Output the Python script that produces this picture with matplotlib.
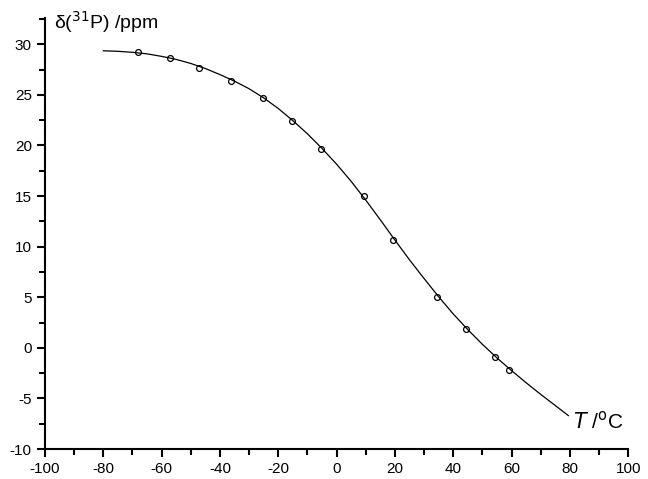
import matplotlib
matplotlib.use("Agg")
import matplotlib.pyplot as plt
from matplotlib.ticker import MultipleLocator

# measured data points
temp_pts = [-68, -57, -47.3, -36.3, -25.3, -15.4, -5.3, 9.3, 19.5, 34.6, 44.4, 54.3, 59.3]
shift_pts = [29.2, 28.6, 27.7, 26.4, 24.7, 22.4, 19.6, 15.05, 10.7, 5.03, 1.87, -0.93, -2.15]

# fitted curve
temp_fit = [-80, -75, -70, -65, -60, -55, -50, -45, -40, -35, -30, -25, -20, -15, -10, -5,
            0, 5, 10, 15, 20, 25, 30, 35, 40, 45, 50, 55, 60, 65, 70, 75, 79.5]
shift_fit = [29.35, 29.3, 29.2, 29.05, 28.8, 28.5, 28.1, 27.6, 27.0, 26.35, 25.6, 24.7, 23.65,
             22.45, 21.15, 19.7, 18.15, 16.45, 14.6, 12.65, 10.65, 8.7, 6.85, 5.05, 3.35, 1.8,
             0.35, -1.0, -2.25, -3.45, -4.6, -5.7, -6.7]

xticks = [-100, -80, -60, -40, -20, 0, 20, 40, 60, 80, 100]
yticks = [-10, -5, 0, 5, 10, 15, 20, 25, 30]

plt.rcParams['font.family'] = ['Liberation Sans', 'DejaVu Sans']
plt.rcParams['axes.unicode_minus'] = False

fig = plt.figure(figsize=(6.48, 4.79), dpi=100)
ax = fig.add_axes([0.0694, 0.0626, 0.9, 0.9])
ax.plot(temp_fit, shift_fit, color='black', lw=0.9)
ax.plot(temp_pts, shift_pts, 'o', ms=4.2, mfc='none', mec='black', mew=0.9)

ax.set_xlim(-100, 100)
ax.set_ylim(-10, 32.6)
ax.set_xticks(xticks)
ax.set_yticks(yticks)
ax.xaxis.set_minor_locator(MultipleLocator(10))
ax.yaxis.set_minor_locator(MultipleLocator(2.5))
ax.spines['top'].set_visible(False)
ax.spines['right'].set_visible(False)
for s in ('left', 'bottom'):
    ax.spines[s].set_linewidth(1.5)
ax.tick_params(which='major', direction='out', length=6, width=1.5, labelsize=11)
ax.tick_params(which='minor', direction='out', length=4, width=1.5)

ax.text(0.015, 1.02, r'δ($^{31}$P) /ppm', transform=ax.transAxes, fontsize=14,
        ha='left', va='top')
ax.text(0.905, 0.065, r'$\it{T}$ /$^{\rm o}$C', transform=ax.transAxes, fontsize=15,
        ha='left', va='center')

fig.savefig('out.png', dpi=100)
